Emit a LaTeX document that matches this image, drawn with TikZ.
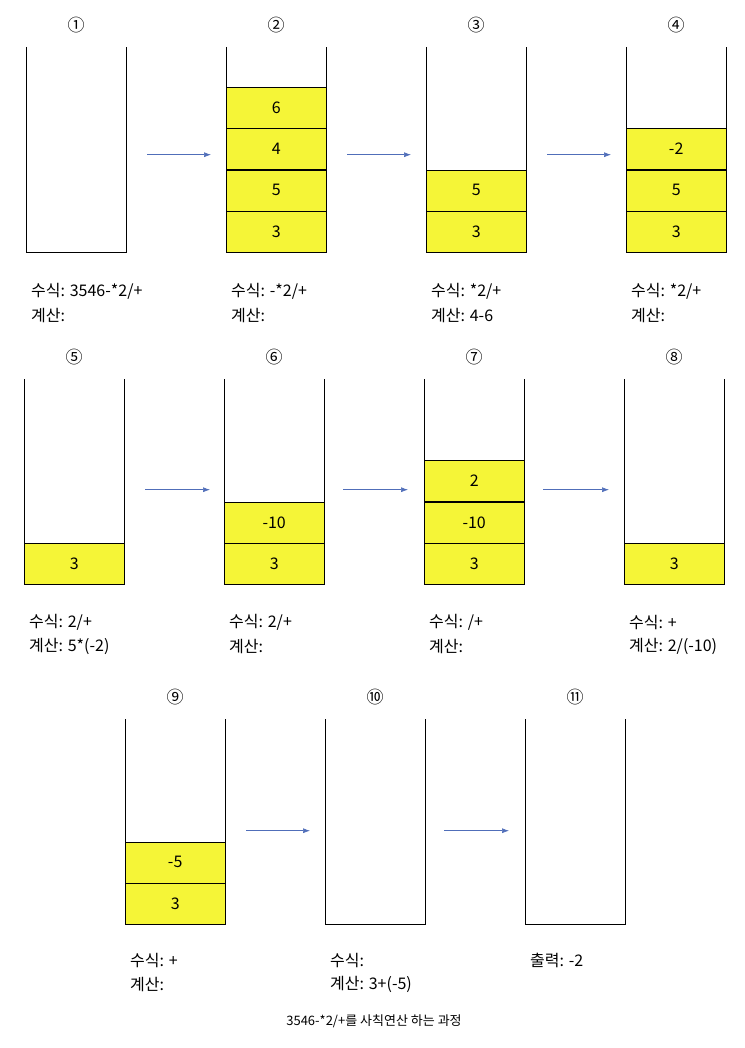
\documentclass[tikz,border=0pt]{standalone}
\usepackage{fontspec}
\setmainfont{Noto Sans CJK KR}
\usetikzlibrary{positioning,arrows.meta}
\definecolor{cellyellow}{RGB}{245,245,55}
\definecolor{arrowblue}{RGB}{80,110,185}

\begin{document}
\begin{tikzpicture}[x=1pt, y=-1pt,
    every node/.style={font=\fontsize{16}{19}\selectfont},
    stackbox/.style={minimum width=100pt, minimum height=205pt, inner sep=0pt, anchor=north west},
    cell/.style={draw, fill=cellyellow, minimum width=100pt, minimum height=41pt, inner sep=0pt},
    arrow/.style={-{Latex[length=7pt,width=5pt]}, arrowblue, semithick},
    lbl/.style={anchor=west, inner sep=0pt},
    stepnum/.style={font=\fontsize{17}{19}\selectfont}
  ]
  \useasboundingbox (0,0) rectangle (744,1048);

  % stacks
  \node[stackbox] (s1)  at (26,47)  {};
  \node[stackbox] (s2)  at (226,47) {};
  \node[stackbox] (s3)  at (426,47) {};
  \node[stackbox] (s4)  at (626,47) {};
  \node[stackbox] (s5)  at (24,379)  {};
  \node[stackbox] (s6)  at (224,379) {};
  \node[stackbox] (s7)  at (424,379) {};
  \node[stackbox] (s8)  at (624,379) {};
  \node[stackbox] (s9)  at (125,719) {};
  \node[stackbox] (s10) at (325,719) {};
  \node[stackbox] (s11) at (525,719) {};
  \foreach \s in {s1,s2,s3,s4,s5,s6,s7,s8,s9,s10,s11}
    \draw (\s.north west) -- (\s.south west) -- (\s.south east) -- (\s.north east);

  % step numbers
  \node[stepnum] (n1)  at ([yshift=22pt]s1.north)  {①};
  \node[stepnum] (n2)  at ([yshift=22pt]s2.north)  {②};
  \node[stepnum] (n3)  at ([yshift=22pt]s3.north)  {③};
  \node[stepnum] (n4)  at ([yshift=22pt]s4.north)  {④};
  \node[stepnum] (n5)  at ([yshift=22pt]s5.north)  {⑤};
  \node[stepnum] (n6)  at ([yshift=22pt]s6.north)  {⑥};
  \node[stepnum] (n7)  at ([yshift=22pt]s7.north)  {⑦};
  \node[stepnum] (n8)  at ([yshift=22pt]s8.north)  {⑧};
  \node[stepnum] (n9)  at ([yshift=22pt]s9.north)  {⑨};
  \node[stepnum] (n10) at ([yshift=22pt]s10.north) {⑩};
  \node[stepnum] (n11) at ([yshift=22pt]s11.north) {⑪};

  % cells
  \node[cell, anchor=south] (c2a) at (s2.south) {3};
  \node[cell, above=0pt of c2a] (c2b) {5};
  \node[cell, above=0pt of c2b] (c2c) {4};
  \node[cell, above=0pt of c2c] (c2d) {6};
  \node[cell, anchor=south] (c3a) at (s3.south) {3};
  \node[cell, above=0pt of c3a] (c3b) {5};
  \node[cell, anchor=south] (c4a) at (s4.south) {3};
  \node[cell, above=0pt of c4a] (c4b) {5};
  \node[cell, above=0pt of c4b] (c4c) {-2};
  \node[cell, anchor=south] (c5a) at (s5.south) {3};
  \node[cell, anchor=south] (c6a) at (s6.south) {3};
  \node[cell, above=0pt of c6a] (c6b) {-10};
  \node[cell, anchor=south] (c7a) at (s7.south) {3};
  \node[cell, above=0pt of c7a] (c7b) {-10};
  \node[cell, above=0pt of c7b] (c7c) {2};
  \node[cell, anchor=south] (c8a) at (s8.south) {3};
  \node[cell, anchor=south] (c9a) at (s9.south) {3};
  \node[cell, above=0pt of c9a] (c9b) {-5};

  % arrows
  \draw[arrow] ([xshift=21pt,yshift=-5pt]s1.east) -- ([xshift=-15pt,yshift=-5pt]s2.west);
  \draw[arrow] ([xshift=21pt,yshift=-5pt]s2.east) -- ([xshift=-15pt,yshift=-5pt]s3.west);
  \draw[arrow] ([xshift=21pt,yshift=-5pt]s3.east) -- ([xshift=-15pt,yshift=-5pt]s4.west);
  \draw[arrow] ([xshift=21pt,yshift=-8pt]s5.east) -- ([xshift=-14pt,yshift=-8pt]s6.west);
  \draw[arrow] ([xshift=19pt,yshift=-8pt]s6.east) -- ([xshift=-16pt,yshift=-8pt]s7.west);
  \draw[arrow] ([xshift=19pt,yshift=-8pt]s7.east) -- ([xshift=-15pt,yshift=-8pt]s8.west);
  \draw[arrow] ([xshift=21pt,yshift=-9pt]s9.east) -- ([xshift=-15pt,yshift=-9pt]s10.west);
  \draw[arrow] ([xshift=19pt,yshift=-9pt]s10.east) -- ([xshift=-16pt,yshift=-9pt]s11.west);

  % expression and calculation
  \node[lbl] (e1) at ([xshift=5pt,yshift=-39pt]s1.south west) {수식: 3546-*2/+};
  \node[lbl] (k1) at ([xshift=5pt,yshift=-63pt]s1.south west) {계산:};
  \node[lbl] (e2) at ([xshift=5pt,yshift=-39pt]s2.south west) {수식: -*2/+};
  \node[lbl] (k2) at ([xshift=5pt,yshift=-63pt]s2.south west) {계산:};
  \node[lbl] (e3) at ([xshift=5pt,yshift=-39pt]s3.south west) {수식: *2/+};
  \node[lbl] (k3) at ([xshift=5pt,yshift=-63pt]s3.south west) {계산: 4-6};
  \node[lbl] (e4) at ([xshift=5pt,yshift=-39pt]s4.south west) {수식: *2/+};
  \node[lbl] (k4) at ([xshift=5pt,yshift=-63pt]s4.south west) {계산:};
  \node[lbl] (e5) at ([xshift=5pt,yshift=-38pt]s5.south west) {수식: 2/+};
  \node[lbl] (k5) at ([xshift=5pt,yshift=-62pt]s5.south west) {계산: 5*(-2)};
  \node[lbl] (e6) at ([xshift=5pt,yshift=-38pt]s6.south west) {수식: 2/+};
  \node[lbl] (k6) at ([xshift=5pt,yshift=-62pt]s6.south west) {계산:};
  \node[lbl] (e7) at ([xshift=5pt,yshift=-38pt]s7.south west) {수식: /+};
  \node[lbl] (k7) at ([xshift=5pt,yshift=-62pt]s7.south west) {계산:};
  \node[lbl] (e8) at ([xshift=5pt,yshift=-38pt]s8.south west) {수식: +};
  \node[lbl] (k8) at ([xshift=5pt,yshift=-62pt]s8.south west) {계산: 2/(-10)};
  \node[lbl] (e9) at ([xshift=5pt,yshift=-36pt]s9.south west) {수식: +};
  \node[lbl] (k9) at ([xshift=5pt,yshift=-60pt]s9.south west) {계산:};
  \node[lbl] (e10) at ([xshift=5pt,yshift=-36pt]s10.south west) {수식:};
  \node[lbl] (k10) at ([xshift=5pt,yshift=-60pt]s10.south west) {계산: 3+(-5)};
  \node[lbl] (o11) at ([xshift=5pt,yshift=-36pt]s11.south west) {출력: -2};

  % caption
  \node[font=\fontsize{13}{15}\selectfont] (cap) at (374,1021) {3546-*2/+를 사칙연산 하는 과정};
\end{tikzpicture}
\end{document}
